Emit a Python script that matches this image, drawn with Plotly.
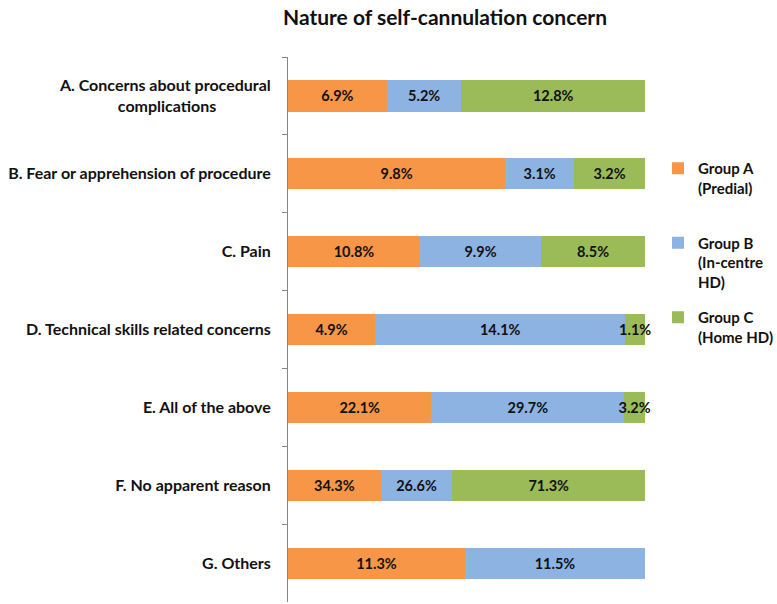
import plotly.graph_objects as go

categories = [
    "A. Concerns about procedural<br>complications" + "\u00a0" * 14,
    "B. Fear or apprehension of procedure",
    "C. Pain",
    "D. Technical skills related concerns",
    "E. All of the above",
    "F. No apparent reason",
    "G. Others",
]
series_names = [
    "Group A<br>(Predial)<br>\u00a0",
    "Group B<br>(In-centre<br>HD)",
    "Group C<br>(Home HD)<br>\u00a0",
]
group_a = [6.9, 9.8, 10.8, 4.9, 22.1, 34.3, 11.3]
group_b = [5.2, 3.1, 9.9, 14.1, 29.7, 26.6, 11.5]
group_c = [12.8, 3.2, 8.5, 1.1, 3.2, 71.3, None]
colors = ["#F79646", "#8DB3E2", "#9BBB59"]

FONT = "Lato"

fig = go.Figure()
for i, (name, vals) in enumerate(zip(series_names, [group_a, group_b, group_c])):
    texts = ["" if v is None else f"{v:.1f}%" for v in vals]
    fig.add_trace(go.Bar(
        y=categories, x=vals, name=name, orientation="h",
        marker=dict(color=colors[i], line=dict(width=0)),
        width=0.4,
        text=texts, textposition="inside", insidetextanchor="middle",
        textangle=0, constraintext="none", cliponaxis=False,
        textfont=dict(family=FONT, size=14.5, color="#111111", weight="bold"),
        legendgroup=f"g{i}",
        hoverinfo="skip",
    ))

fig.update_layout(
    width=777, height=604,
    barmode="stack", barnorm="percent",
    paper_bgcolor="white", plot_bgcolor="white",
    margin=dict(l=288, r=132, t=57, b=2),
    title=dict(text="Nature of self-cannulation concern",
               font=dict(family=FONT, size=21, color="#111111", weight="bold"),
               x=445 / 777, xanchor="center", xref="container",
               y=1 - 18 / 604, yanchor="middle", yref="container"),
    xaxis=dict(visible=False, range=[0, 100]),
    yaxis=dict(type="category", categoryorder="array", categoryarray=categories,
               autorange="reversed", tickson="boundaries", ticks="outside",
               ticklen=5, tickcolor="#868686", showline=True, linecolor="#868686",
               linewidth=1, showgrid=False, ticklabelstandoff=13,
               tickfont=dict(family=FONT, size=16, color="#111111", weight="bold")),
    legend=dict(x=658 / 777, xref="container", xanchor="left",
                y=1 - 152 / 604, yref="container", yanchor="top",
                tracegroupgap=13, traceorder="grouped", valign="top",
                font=dict(family=FONT, size=15, color="#111111", weight="bold"),
                bgcolor="rgba(0,0,0,0)"),
    showlegend=True,
)

fig.write_html("out.html", config={"displayModeBar": False},
               post_script="document.body.style.margin='0';document.body.style.padding='0';")
